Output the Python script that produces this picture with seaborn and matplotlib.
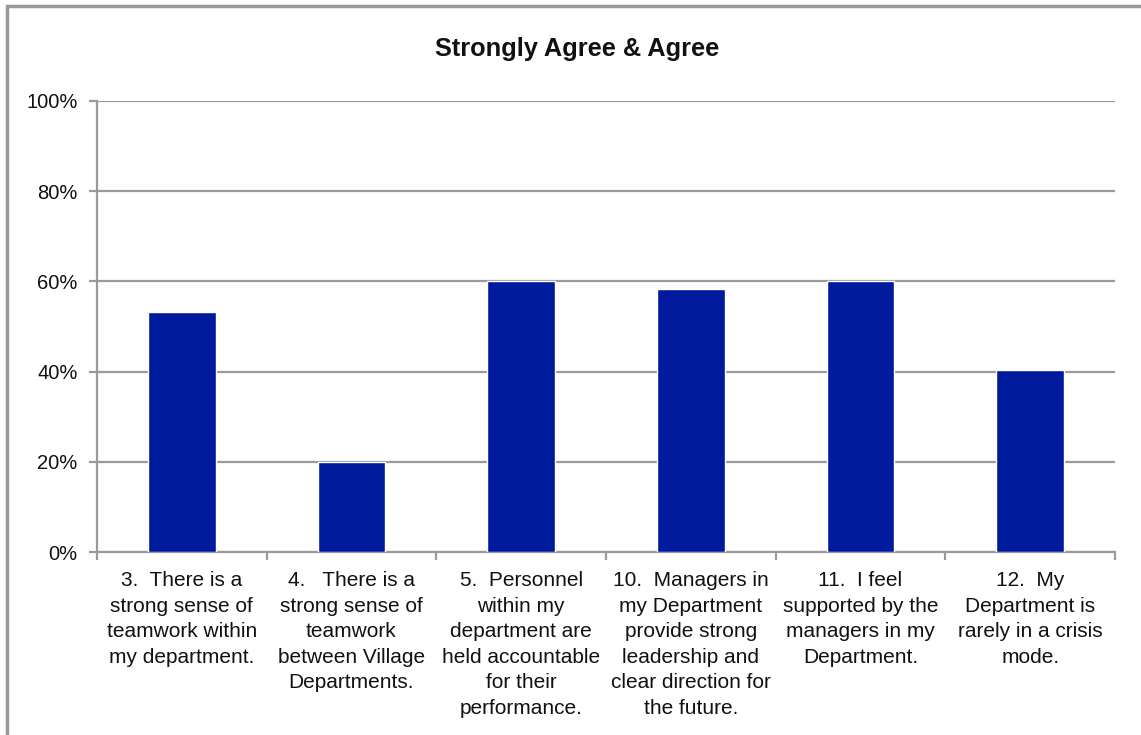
import matplotlib
matplotlib.use("Agg")
import matplotlib.pyplot as plt
from matplotlib.patches import Rectangle
from matplotlib.ticker import FixedLocator, PercentFormatter
import seaborn as sns
import pandas as pd

categories = [
    "3.  There is a\nstrong sense of\nteamwork within\nmy department.",
    "4.   There is a\nstrong sense of\nteamwork\nbetween Village\nDepartments.",
    "5.  Personnel\nwithin my\ndepartment are\nheld accountable\nfor their\nperformance.",
    "10.  Managers in\nmy Department\nprovide strong\nleadership and\nclear direction for\nthe future.",
    "11.  I feel\nsupported by the\nmanagers in my\nDepartment.",
    "12.  My\nDepartment is\nrarely in a crisis\nmode.",
]
agree_pct = [53.3, 20.0, 60.0, 58.3, 60.0, 40.4]
y_ticks = [0, 20, 40, 60, 80, 100]
title = "Strongly Agree & Agree"

sns.set_style("white")
plt.rcParams["font.family"] = ["Liberation Sans", "DejaVu Sans"]

df = pd.DataFrame({"item": categories, "pct": agree_pct})

fig = plt.figure(figsize=(11.41, 7.35), dpi=100)
ax = fig.add_axes([97 / 1141, 1 - 552 / 735, (1115 - 97) / 1141, (552 - 101) / 735])

grid_color = "#9a9a9a"
ax.set_ylim(0, 100)
ax.set_yticks(y_ticks)
ax.yaxis.set_major_formatter(PercentFormatter(decimals=0))
ax.grid(axis="y", color=grid_color, linewidth=1.6)
ax.set_axisbelow(True)

sns.barplot(data=df, x="item", y="pct", color="#001A9E", width=0.4,
            saturation=1, ax=ax, zorder=3)

ax.set_xlim(-0.5, len(categories) - 0.5)
ax.set_xlabel("")
ax.set_ylabel("")

for side in ("top", "right"):
    ax.spines[side].set_visible(False)
for side in ("left", "bottom"):
    ax.spines[side].set_color(grid_color)
    ax.spines[side].set_linewidth(1.6)

ax.xaxis.set_minor_locator(FixedLocator([i - 0.5 for i in range(len(categories) + 1)]))
ax.tick_params(axis="x", which="major", length=0, pad=14, labelsize=15, labelcolor="#111111")
ax.tick_params(axis="x", which="minor", length=6, width=1.6, color=grid_color, direction="out", bottom=True)
ax.tick_params(axis="y", length=6, width=1.6, color=grid_color, direction="out", left=True,
               pad=8, labelsize=14.5, labelcolor="#111111")
for lbl in ax.get_xticklabels():
    lbl.set_linespacing(1.43)

fig.text(577 / 1141, 1 - 49 / 735, title, ha="center", va="center",
         fontsize=18.3, fontweight="bold", color="#111111")

fig.patches.append(Rectangle((7 / 1141, -0.1), 1.2, 1 - 6 / 735 + 0.1,
                             transform=fig.transFigure, fill=False,
                             edgecolor="#999999", linewidth=2.5))

fig.savefig("out.png", dpi=100)
